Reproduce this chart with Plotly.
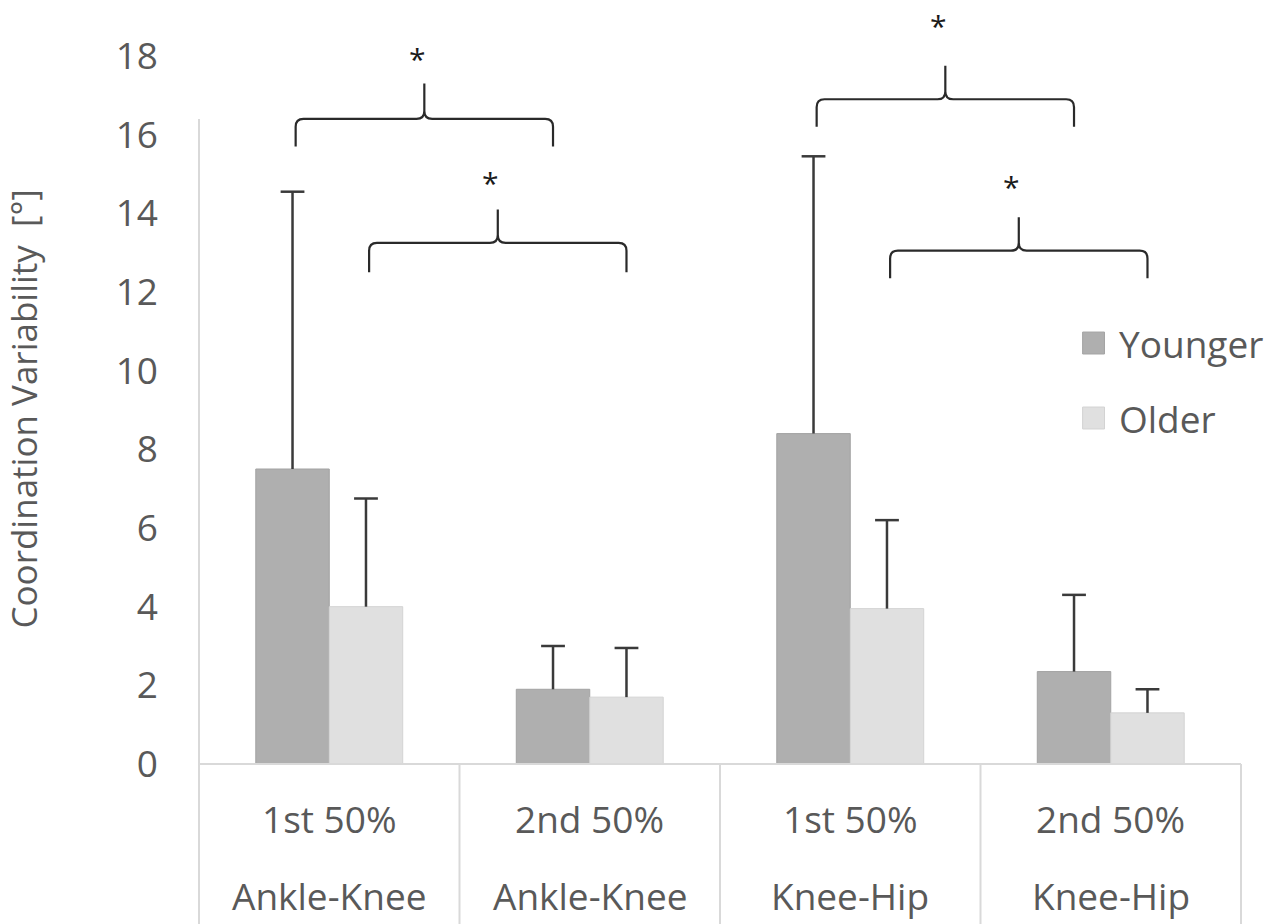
import plotly.graph_objects as go

# Categories: phase of the movement (top row) and joint pair (bottom row)
phases = ["1st 50%", "2nd 50%", "1st 50%", "2nd 50%"]
joints = ["Ankle-Knee", "Ankle-Knee", "Knee-Hip", "Knee-Hip"]

# Mean coordination variability (degrees) and standard deviations
younger_mean = [7.5, 1.9, 8.4, 2.35]
younger_sd = [7.05, 1.1, 7.05, 1.95]
older_mean = [4.0, 1.7, 3.95, 1.3]
older_sd = [2.75, 1.25, 2.25, 0.6]

# Significant differences: (group a, group b, series index 0=Younger 1=Older)
sig_pairs = [(0, 1, 0), (0, 1, 1), (2, 3, 0), (2, 3, 1)]
# brace levels: (end, line, tip, star) in degrees
sig_levels = [(15.7, 16.4, 17.3, 18.1),
              (12.5, 13.25, 14.1, 14.95),
              (16.2, 16.9, 17.75, 18.95),
              (12.35, 13.05, 13.9, 14.85)]

y_ticks = [0, 2, 4, 6, 8, 10, 12, 14, 16, 18]

FONT = "Open Sans, Liberation Sans, sans-serif"
TXT = "#595959"
GRID = "#D9D9D9"
Y_COL, O_COL = "#AFAFAF", "#E0E0E0"
Y_EDGE, O_EDGE = "#A3A3A3", "#D3D3D3"
ERR_COL = "#3A3A3A"

BARGAP = 0.436
YMAX = 18
PX_PER_UNIT = (924 - 160 - 56) / YMAX
x = list(range(len(phases)))

fig = go.Figure()
series = [("Younger", younger_mean, younger_sd, Y_COL, Y_EDGE),
          ("Older", older_mean, older_sd, O_COL, O_EDGE)]
for name, m, sd, col, edge in series:
    fig.add_trace(go.Bar(
        x=x, y=m, name=name, marker=dict(color=col, line=dict(color=edge, width=1)),
        error_y=dict(type="data", array=sd, arrayminus=[0] * len(sd), symmetric=False,
                     color=ERR_COL, thickness=2.5, width=0),
        showlegend=False,
    ))
# caps on top of the error bars
for name, m, sd, col, edge in series:
    fig.add_trace(go.Scatter(
        x=x, y=[a + b for a, b in zip(m, sd)], mode="markers",
        marker=dict(symbol="line-ew", size=17, line=dict(color=ERR_COL, width=2.5)),
        showlegend=False, hoverinfo="skip", cliponaxis=False,
    ))

bar_w = (1 - BARGAP) / 2
offsets = [-bar_w / 2, bar_w / 2]

shapes = []
annotations = []

# significance braces with asterisks
cx, cy = 0.03, 0.2
for (ga, gb, s), (yb, yl, yt, ys) in zip(sig_pairs, sig_levels):
    x0 = ga + offsets[s] + 0.012
    x1 = gb + offsets[s]
    xm = (x0 + x1) / 2
    path = (f"M {x0},{yb} L {x0},{yl - cy} Q {x0},{yl} {x0 + cx},{yl} "
            f"L {xm - cx},{yl} Q {xm},{yl} {xm},{yl + cy} L {xm},{yt} "
            f"M {xm},{yl + cy} Q {xm},{yl} {xm + cx},{yl} "
            f"L {x1 - cx},{yl} Q {x1},{yl} {x1},{yl - cy} L {x1},{yb}")
    shapes.append(dict(type="path", path=path, xref="x", yref="y",
                       line=dict(color="#2A2A2A", width=2.2)))
    annotations.append(dict(x=xm - 0.027, y=(ys + 16 / PX_PER_UNIT) / YMAX,
                            xref="x", yref="paper",
                            text="*", showarrow=False, yanchor="top",
                            font=dict(family=FONT, size=30, color="#1A1A1A")))

# value axis line (stops short of the top)
shapes.append(dict(type="line", xref="paper", yref="y", x0=0, x1=0, y0=0, y1=16.4,
                   line=dict(color=GRID, width=2)))
# category table below the plot
TABLE_BOTTOM = -0.23
shapes.append(dict(type="line", xref="paper", yref="paper", x0=0, x1=1, y0=0, y1=0,
                   line=dict(color=GRID, width=2)))
for k in range(len(phases) + 1):
    xp = k / len(phases)
    shapes.append(dict(type="line", xref="paper", yref="paper", x0=xp, x1=xp,
                       y0=0, y1=TABLE_BOTTOM, line=dict(color=GRID, width=2)))
for i, (p, j) in enumerate(zip(phases, joints)):
    annotations.append(dict(x=i, y=-0.077, xref="x", yref="paper", text=p,
                            showarrow=False, yanchor="middle",
                            font=dict(family=FONT, size=37, color=TXT)))
    annotations.append(dict(x=i, y=-0.2245, xref="x", yref="paper", text=j,
                            showarrow=False, yanchor="bottom",
                            font=dict(family=FONT, size=37, color=TXT)))

# y-axis title
annotations.append(dict(x=-0.168, y=0.502, xref="paper", yref="paper",
                        text="Coordination Variability\u00a0 [\u00b0]", textangle=-90,
                        showarrow=False, xanchor="center", yanchor="middle",
                        font=dict(family=FONT, size=35, color=TXT)))

# legend
for (name, m, sd, col, edge), yc in zip(series, [0.5946, 0.4887]):
    shapes.append(dict(type="rect", xref="paper", yref="paper",
                       x0=0.848, x1=0.869, y0=yc - 0.0155, y1=yc + 0.0155,
                       fillcolor=col, line=dict(color=edge, width=1)))
    annotations.append(dict(x=0.881, y=yc, xref="paper", yref="paper", text=name,
                            showarrow=False, xanchor="left", yanchor="middle",
                            font=dict(family=FONT, size=37, color=TXT)))

fig.update_layout(
    width=1279, height=924,
    margin=dict(l=199, r=38, t=56, b=160),
    paper_bgcolor="white", plot_bgcolor="white",
    barmode="group", bargap=BARGAP, bargroupgap=0,
    scattermode="group", scattergap=BARGAP,
    showlegend=False,
    xaxis=dict(range=[-0.5, len(phases) - 0.5], showticklabels=False, showgrid=False,
               zeroline=False, showline=False, ticks=""),
    yaxis=dict(range=[0, YMAX], tickvals=y_ticks, showgrid=False, zeroline=False,
               showline=False, ticks="", ticklabelstandoff=40,
               tickfont=dict(family=FONT, size=37, color=TXT)),
    shapes=shapes, annotations=annotations,
)

fig.write_html("out.html")
